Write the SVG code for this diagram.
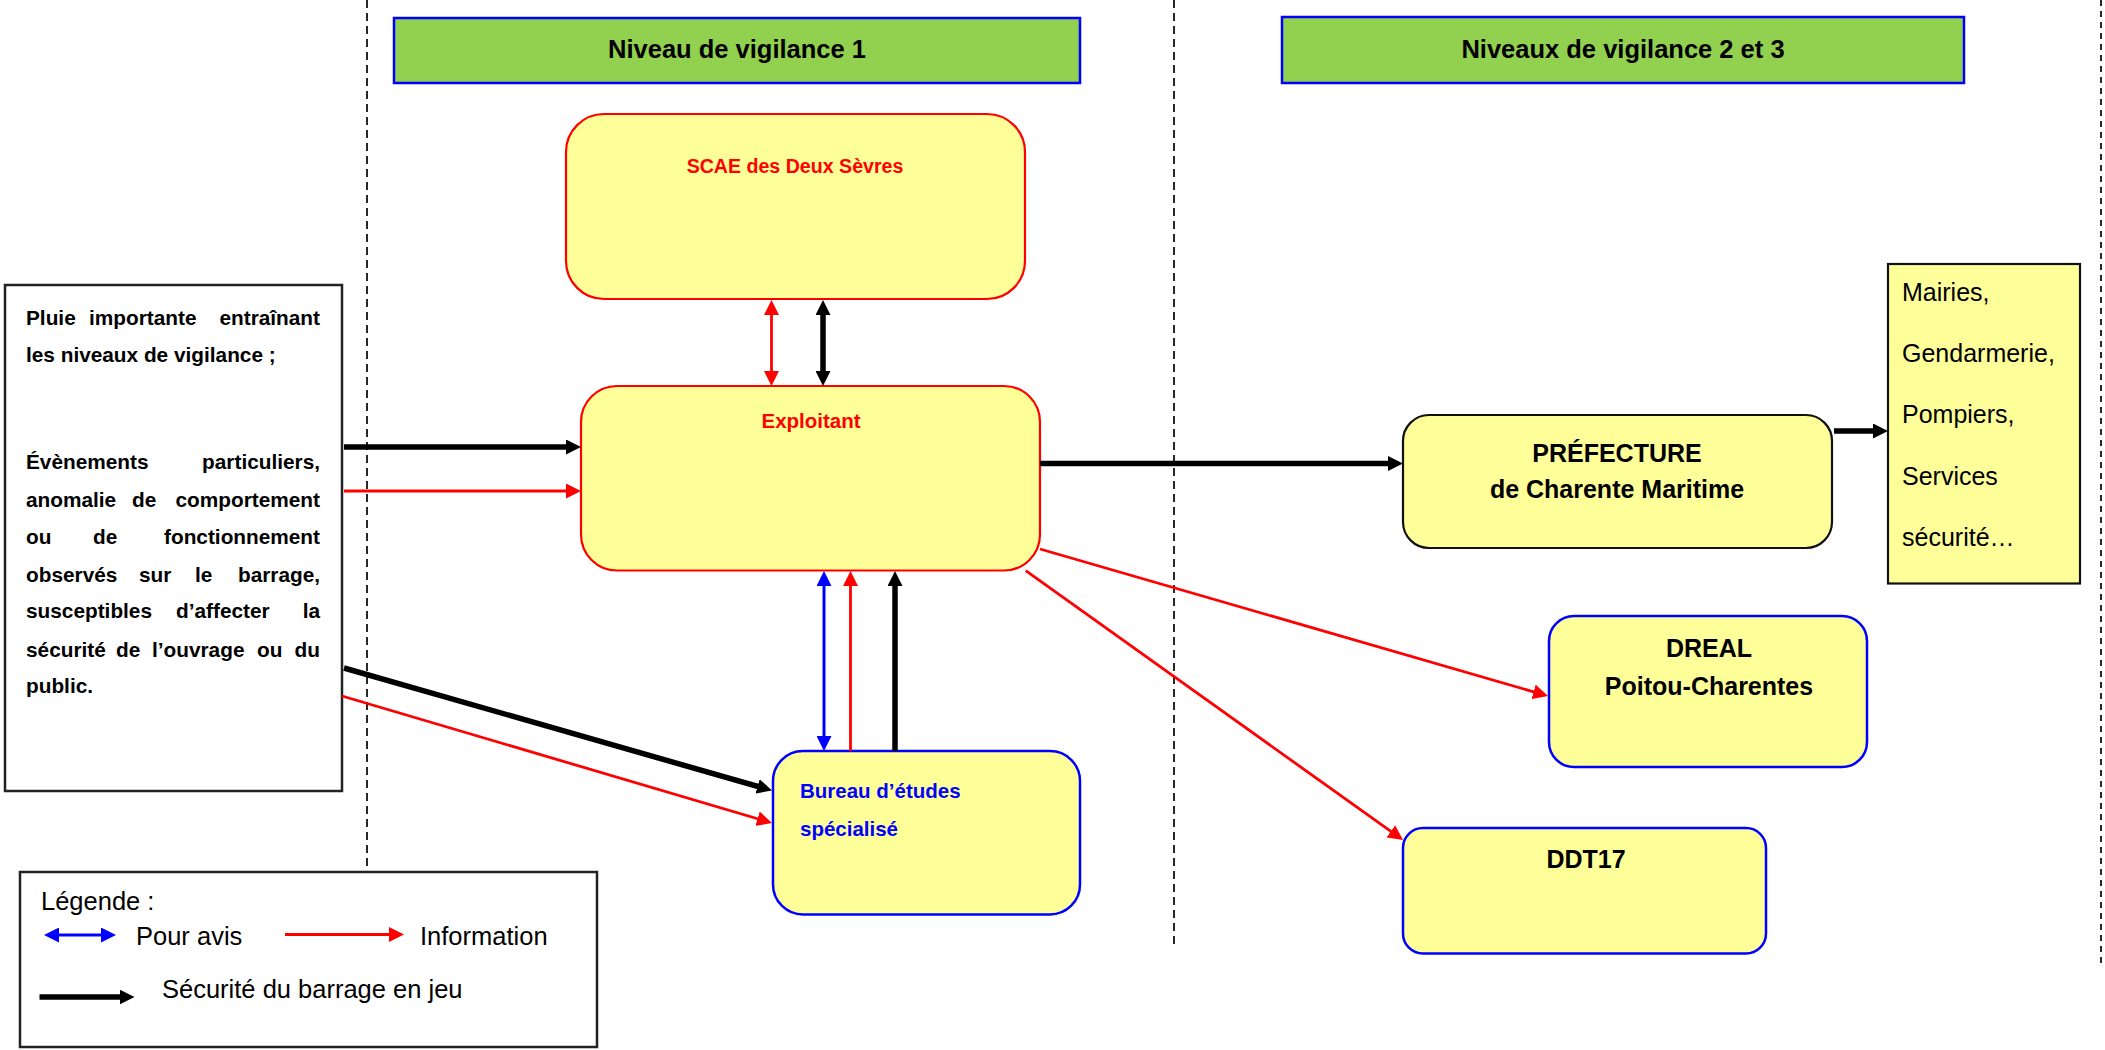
<svg xmlns="http://www.w3.org/2000/svg" width="2105" height="1050" viewBox="0 0 2105 1050">
<style>
.bg{fill:#ffffff}
.dash{stroke:#111;stroke-width:1.8;fill:none}
.band{fill:#92D050;stroke:#0000FF;stroke-width:2.5}
.yr{fill:#FFFF99;stroke:#FF0000;stroke-width:2.2}
.yb{fill:#FFFF99;stroke:#0000FF;stroke-width:2.5}
.yk{fill:#FFFF99;stroke:#111;stroke-width:2.2}
.plain{fill:#ffffff;stroke:#222;stroke-width:2.5}
.b{font-family:"Liberation Sans",Arial,sans-serif;font-weight:bold}
.r{font-family:"Liberation Sans",Arial,sans-serif}
.lk{stroke:#000;stroke-width:5.5;fill:none}
.lr{stroke:#FF0000;stroke-width:2.8;fill:none}
.lb{stroke:#0000FF;stroke-width:3;fill:none}
</style>
<defs>
<marker id="ak" viewBox="0 0 15 15" markerWidth="15" markerHeight="15" refX="7" refY="7.5" markerUnits="userSpaceOnUse" orient="auto-start-reverse"><path d="M0,0 L15,7.5 L0,15 z" fill="#000"/></marker>
<marker id="ar" viewBox="0 0 15 15" markerWidth="15" markerHeight="15" refX="7" refY="7.5" markerUnits="userSpaceOnUse" orient="auto-start-reverse"><path d="M0,0 L15,7.5 L0,15 z" fill="#FF0000"/></marker>
<marker id="ab" viewBox="0 0 15 15" markerWidth="15" markerHeight="15" refX="7" refY="7.5" markerUnits="userSpaceOnUse" orient="auto-start-reverse"><path d="M0,0 L15,7.5 L0,15 z" fill="#0000FF"/></marker>
</defs>
<rect class="bg" x="0" y="0" width="2105" height="1050"/>

<g id="separators">
<line class="dash" x1="367" y1="0" x2="367" y2="867" stroke-dasharray="8 5"/>
<line class="dash" x1="1174" y1="0" x2="1174" y2="949" stroke-dasharray="8 5"/>
<line class="dash" x1="2101" y1="0" x2="2101" y2="964" stroke-dasharray="6 5"/>
</g>

<g id="band1">
<rect class="band" x="394" y="18" width="686" height="65"/>
<text class="b" x="737" y="58" font-size="25.5" text-anchor="middle">Niveau de vigilance 1</text>
</g>
<g id="band2">
<rect class="band" x="1282" y="17" width="682" height="66"/>
<text class="b" x="1623" y="57.5" font-size="25.5" text-anchor="middle">Niveaux de vigilance 2 et 3</text>
</g>

<g id="evenements">
<rect class="plain" x="5" y="285" width="337" height="506"/>
<g class="b" font-size="20.8" fill="#000">
<text x="26" y="325">Pluie</text><text x="89" y="325">importante</text><text x="320" y="325" text-anchor="end">entraînant</text>
<text x="26" y="362">les niveaux de vigilance ;</text>
<text x="26" y="469">Évènements</text><text x="320" y="469" text-anchor="end">particuliers,</text>
<text x="26" y="507">anomalie</text><text x="132" y="507">de</text><text x="320" y="507" text-anchor="end">comportement</text>
<text x="26" y="544">ou</text><text x="93" y="544">de</text><text x="320" y="544" text-anchor="end">fonctionnement</text>
<text x="26" y="582">observés</text><text x="139" y="582">sur</text><text x="195" y="582">le</text><text x="320" y="582" text-anchor="end">barrage,</text>
<text x="26" y="618">susceptibles</text><text x="176" y="618">d’affecter</text><text x="320" y="618" text-anchor="end">la</text>
<text x="26" y="657">sécurité</text><text x="116" y="657">de</text><text x="152" y="657">l’ouvrage</text><text x="257" y="657">ou</text><text x="320" y="657" text-anchor="end">du</text>
<text x="26" y="693">public.</text>
</g>
</g>

<g id="scae">
<rect class="yr" x="566" y="114" width="459" height="185" rx="38"/>
<text class="b" x="795" y="173" font-size="19.6" fill="#FF0000" text-anchor="middle">SCAE des Deux Sèvres</text>
</g>

<g id="exploitant">
<rect class="yr" x="581" y="386" width="459" height="184.5" rx="36"/>
<text class="b" x="811" y="428" font-size="20.5" fill="#FF0000" text-anchor="middle">Exploitant</text>
</g>

<g id="bureau">
<rect class="yb" x="773" y="751" width="307" height="163.5" rx="30"/>
<text class="b" x="800" y="798" font-size="20.5" fill="#0000FF">Bureau d’études</text>
<text class="b" x="800" y="836" font-size="20.5" fill="#0000FF">spécialisé</text>
</g>

<g id="prefecture">
<rect class="yk" x="1403" y="415" width="429" height="133" rx="26"/>
<text class="b" x="1617" y="462" font-size="25" text-anchor="middle">PRÉFECTURE</text>
<text class="b" x="1617" y="498" font-size="25" text-anchor="middle">de Charente Maritime</text>
</g>

<g id="mairies">
<rect class="yk" x="1888" y="264" width="192" height="319.5"/>
<g class="r" font-size="25">
<text x="1902" y="301">Mairies,</text>
<text x="1902" y="362">Gendarmerie,</text>
<text x="1902" y="423">Pompiers,</text>
<text x="1902" y="485">Services</text>
<text x="1902" y="546">sécurité…</text>
</g>
</g>

<g id="dreal">
<rect class="yb" x="1549" y="616" width="318" height="151" rx="25"/>
<text class="b" x="1709" y="657" font-size="25" text-anchor="middle">DREAL</text>
<text class="b" x="1709" y="695" font-size="25" text-anchor="middle">Poitou-Charentes</text>
</g>

<g id="ddt17">
<rect class="yb" x="1403" y="828" width="363" height="125.5" rx="20"/>
<text class="b" x="1586" y="868" font-size="25" text-anchor="middle">DDT17</text>
</g>

<g id="connectors">
<line class="lr" x1="771.5" y1="308" x2="771.5" y2="378" marker-start="url(#ar)" marker-end="url(#ar)"/>
<line class="lk" x1="823" y1="308" x2="823" y2="378" marker-start="url(#ak)" marker-end="url(#ak)"/>
<line class="lb" x1="824" y1="579" x2="824" y2="743" marker-start="url(#ab)" marker-end="url(#ab)"/>
<line class="lr" x1="850.5" y1="751" x2="850.5" y2="579" marker-end="url(#ar)"/>
<line class="lk" x1="895" y1="751" x2="895" y2="579" marker-end="url(#ak)"/>
<line class="lk" x1="344" y1="447" x2="573" y2="447" marker-end="url(#ak)"/>
<line class="lr" x1="344" y1="491" x2="573" y2="491" marker-end="url(#ar)"/>
<line class="lk" x1="344" y1="668" x2="764.3" y2="788.3" marker-end="url(#ak)"/>
<line class="lr" x1="342" y1="696" x2="764.3" y2="820.7" marker-end="url(#ar)"/>
<line class="lk" x1="1040" y1="463.5" x2="1395" y2="463.5" marker-end="url(#ak)"/>
<line class="lk" x1="1834" y1="431" x2="1880" y2="431" marker-end="url(#ak)"/>
<line class="lr" x1="1040" y1="549" x2="1540.3" y2="693.8" marker-end="url(#ar)"/>
<line class="lr" x1="1025.7" y1="570.7" x2="1396.5" y2="835.4" marker-end="url(#ar)"/>
</g>

<g id="legende">
<rect class="plain" x="20" y="872" width="577" height="175" stroke-width="2"/>
<text class="r" x="41" y="910" font-size="25.5">Légende :</text>
<line class="lb" x1="52" y1="935" x2="108" y2="935" marker-start="url(#ab)" marker-end="url(#ab)"/>
<text class="r" x="136" y="945" font-size="25.5">Pour avis</text>
<line class="lr" x1="285" y1="934.5" x2="396" y2="934.5" marker-end="url(#ar)"/>
<text class="r" x="420" y="945" font-size="25.5">Information</text>
<line class="lk" x1="39.5" y1="997" x2="126.5" y2="997" marker-end="url(#ak)"/>
<text class="r" x="162" y="998" font-size="25.5">Sécurité du barrage en jeu</text>
</g>
</svg>
